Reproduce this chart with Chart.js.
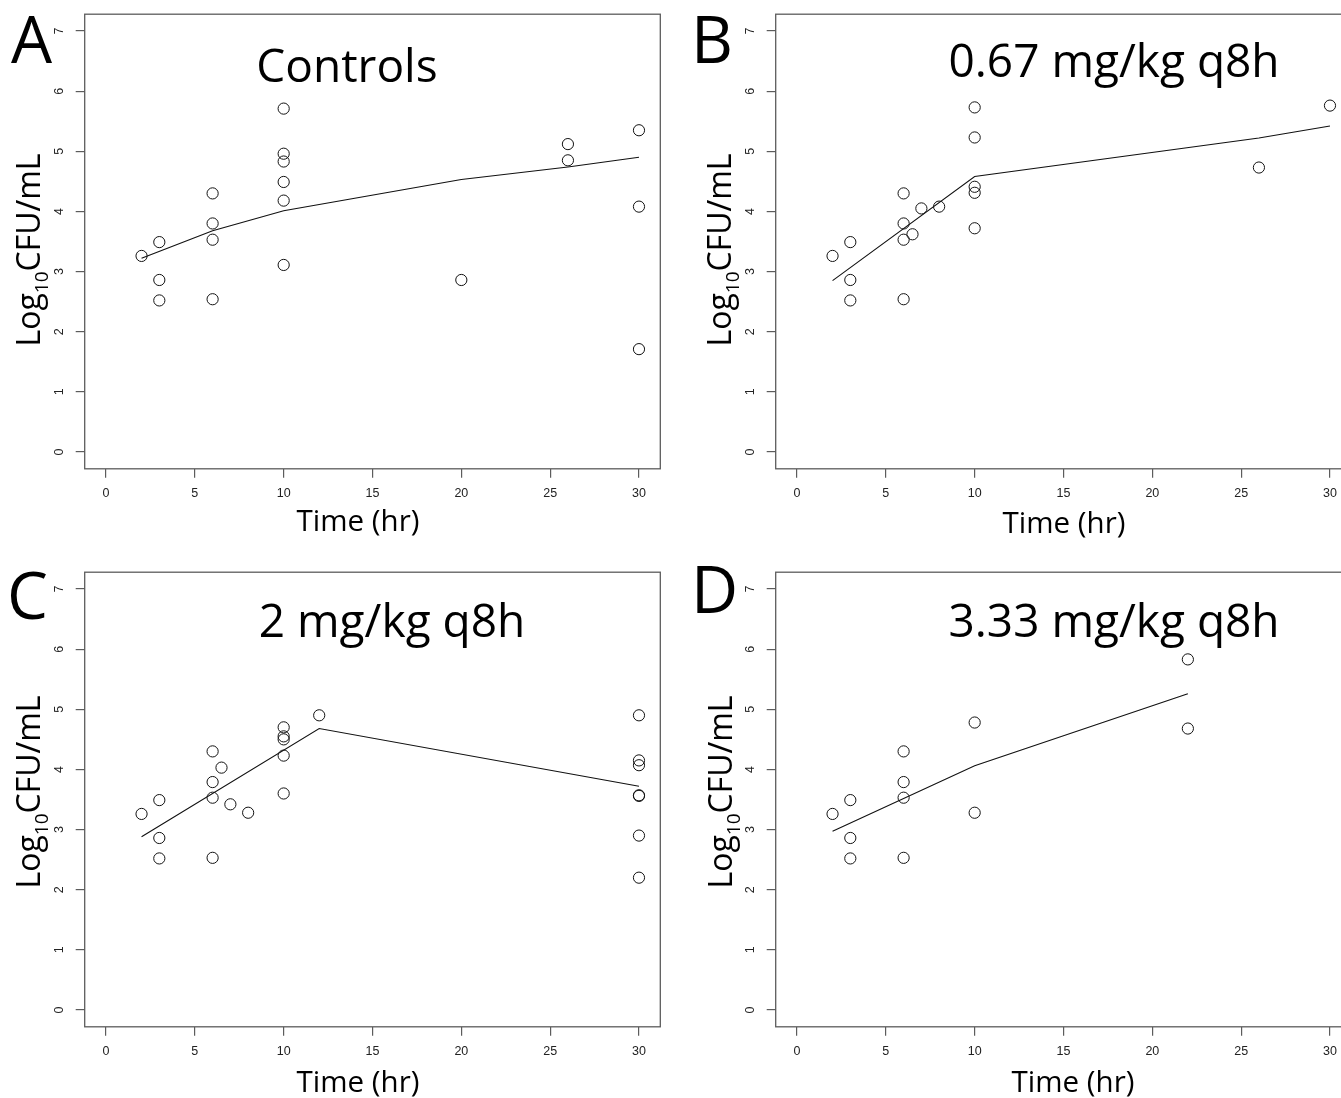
<!DOCTYPE html>
<html><head><meta charset="utf-8">
<script src="https://cdn.jsdelivr.net/npm/chart.js@4/dist/chart.umd.min.js"></script>
<style>
html,body{margin:0;padding:0;background:#fff;overflow:hidden;}
#wrap{position:relative;width:1341px;height:1098px;overflow:hidden;background:#fff;}
.panel{position:absolute;width:680px;height:549px;}
.panel canvas{display:block;}
</style></head><body>
<div id="wrap">
<div class="panel" style="left:0;top:0"><canvas id="cA" width="680" height="549"></canvas></div>
<div class="panel" style="left:690px;top:0"><canvas id="cB" width="680" height="549"></canvas></div>
<div class="panel" style="left:0;top:549px"><canvas id="cC" width="680" height="549"></canvas></div>
<div class="panel" style="left:690px;top:549px"><canvas id="cD" width="680" height="549"></canvas></div>
</div>
<script>
// ---- data ----
const xTicks = [0, 5, 10, 15, 20, 25, 30];
const yTicks = [0, 1, 2, 3, 4, 5, 6, 7];
const panelLetters = ['A', 'B', 'C', 'D'];
const panelTitles = ['Controls', '0.67 mg/kg q8h', '2 mg/kg q8h', '3.33 mg/kg q8h'];
const xTitle = 'Time (hr)';
const yTitleParts = ['Log', '10', 'CFU/mL'];

const timesA = [2, 3, 3, 3, 6, 6, 6, 6, 10, 10, 10, 10, 10, 10, 20, 26, 26, 30, 30, 30];
const logCfuA = [3.26, 3.49, 2.86, 2.52, 4.30, 3.80, 3.53, 2.54, 5.71, 4.96, 4.83, 4.49, 4.18, 3.11, 2.86, 5.12, 4.85, 5.35, 4.08, 1.71];
const fitTimesA = [2, 6, 10, 20, 26, 30];
const fitA = [3.22, 3.68, 4.01, 4.53, 4.74, 4.90];

const timesB = [2, 3, 3, 3, 6, 6, 6, 6, 6.5, 7, 8, 10, 10, 10, 10, 10, 26, 30];
const logCfuB = [3.26, 3.49, 2.86, 2.52, 4.30, 3.80, 3.53, 2.54, 3.62, 4.05, 4.08, 5.73, 5.23, 4.41, 4.31, 3.72, 4.73, 5.76];
const fitTimesB = [2, 10, 26, 30];
const fitB = [2.85, 4.58, 5.22, 5.42];

const timesC = [2, 3, 3, 3, 6, 6, 6, 6, 6.5, 7, 8, 10, 10, 10, 10, 10, 12, 30, 30, 30, 30, 30, 30, 30];
const logCfuC = [3.26, 3.49, 2.86, 2.52, 4.30, 3.79, 3.53, 2.53, 4.03, 3.42, 3.28, 4.70, 4.55, 4.50, 4.23, 3.60, 4.90, 4.90, 4.15, 4.07, 3.57, 3.56, 2.90, 2.20];
const fitTimesC = [2, 12, 30];
const fitC = [2.88, 4.68, 3.72];

const timesD = [2, 3, 3, 3, 6, 6, 6, 6, 10, 10, 22, 22];
const logCfuD = [3.26, 3.49, 2.86, 2.52, 4.30, 3.79, 3.53, 2.53, 4.78, 3.28, 5.83, 4.68];
const fitTimesD = [2, 10, 22];
const fitD = [2.97, 4.06, 5.26];

// ---- layout (local canvas pixels) ----
const CW = 680, CH = 549;
const layouts = [
  {area: {left: 84.7, right: 660.3, top: 14.2, bottom: 468.8},
   letter: {x: 11, y: 63}, title: {x: 347, y: 82}, xt: {x: 358, y: 531}, yt: {x: 40, y: 250}},
  {area: {left: 85.7, right: 661.3, top: 14.2, bottom: 468.8},
   letter: {x: 1, y: 63}, title: {x: 424, y: 77}, xt: {x: 374, y: 533}, yt: {x: 41, y: 250}},
  {area: {left: 84.7, right: 660.3, top: 23.2, bottom: 477.8},
   letter: {x: 7, y: 70}, title: {x: 392, y: 88}, xt: {x: 358, y: 543}, yt: {x: 40, y: 243}},
  {area: {left: 85.7, right: 661.3, top: 23.2, bottom: 477.8},
   letter: {x: 1, y: 64}, title: {x: 424, y: 88}, xt: {x: 383, y: 543}, yt: {x: 42, y: 243}}
];

const FONT = '"Open Sans", "Noto Sans", sans-serif';
const TICKFONT = '"Liberation Sans", Arial, sans-serif';

const panelDeco = {
  id: 'panelDeco',
  beforeDatasetsDraw(chart, args, o) {
    const a = chart.chartArea, ctx = chart.ctx;
    ctx.save();
    ctx.strokeStyle = '#5c5c5c';
    ctx.lineWidth = 1.3;
    ctx.strokeRect(a.left, a.top, a.right - a.left, a.bottom - a.top);
    ctx.restore();
  },
  afterDraw(chart, args, o) {
    const ctx = chart.ctx, L = o.layout;
    ctx.save();
    ctx.fillStyle = '#000';
    ctx.textBaseline = 'alphabetic';
    ctx.textAlign = 'left';
    ctx.font = '65px ' + FONT;
    ctx.fillText(o.letter, L.letter.x, L.letter.y);
    ctx.textAlign = 'center';
    ctx.font = '46px ' + FONT;
    ctx.fillText(o.title, L.title.x, L.title.y);
    ctx.font = '29.5px ' + FONT;
    ctx.fillText(xTitle, L.xt.x, L.xt.y);
    // rotated y title with subscript
    ctx.translate(L.yt.x, L.yt.y);
    ctx.rotate(-Math.PI / 2);
    ctx.textAlign = 'left';
    const big = '32px ' + FONT, small = '19px ' + FONT;
    ctx.font = big; const w1 = ctx.measureText(yTitleParts[0]).width;
    const w3 = ctx.measureText(yTitleParts[2]).width;
    ctx.font = small; const w2 = ctx.measureText(yTitleParts[1]).width;
    let x0 = -(w1 + w2 + w3) / 2;
    ctx.font = big; ctx.fillText(yTitleParts[0], x0, 0);
    ctx.font = small; ctx.fillText(yTitleParts[1], x0 + w1, 8);
    ctx.font = big; ctx.fillText(yTitleParts[2], x0 + w1 + w2, 0);
    ctx.restore();
  }
};

function makeChart(id, idx, times, vals, fitT, fitV) {
  const L = layouts[idx];
  const pts = times.map((t, i) => ({x: t, y: vals[i]}));
  const fit = fitT.map((t, i) => ({x: t, y: fitV[i]}));
  return new Chart(document.getElementById(id), {
    type: 'scatter',
    data: {
      datasets: [
        {data: pts, showLine: false, pointStyle: 'circle', pointRadius: 5.6,
         pointBorderWidth: 1, borderColor: '#111', pointBorderColor: '#111',
         backgroundColor: 'rgba(0,0,0,0)', pointBackgroundColor: 'rgba(0,0,0,0)'},
        {data: fit, showLine: true, pointRadius: 0, borderColor: '#111',
         borderWidth: 1.1, tension: 0, fill: false}
      ]
    },
    options: {
      responsive: false, animation: false, devicePixelRatio: 1,
      layout: {padding: {top: L.area.top, right: CW - L.area.right, left: 0, bottom: 0}},
      plugins: {legend: {display: false}, tooltip: {enabled: false}, title: {display: false},
                panelDeco: {layout: L, letter: panelLetters[idx], title: panelTitles[idx]}},
      scales: {
        x: {
          type: 'linear', position: 'bottom', min: -1.2, max: 31.2,
          afterBuildTicks: s => { s.ticks = xTicks.map(v => ({value: v})); },
          afterFit: s => { s.height = CH - L.area.bottom; s.paddingLeft = 0; s.paddingRight = 0; },
          ticks: {autoSkip: false, maxRotation: 0, minRotation: 0, padding: 8,
                  color: '#222', font: {family: TICKFONT, size: 12.5}},
          grid: {display: true, drawOnChartArea: false, drawTicks: true, tickLength: 9,
                 color: '#5c5c5c', lineWidth: 1.2},
          border: {display: false}
        },
        y: {
          type: 'linear', position: 'left', min: -0.28, max: 7.28,
          afterBuildTicks: s => { s.ticks = yTicks.map(v => ({value: v})); },
          afterFit: s => { s.width = L.area.left; s.paddingTop = 0; s.paddingBottom = 0; },
          ticks: {autoSkip: false, minRotation: 90, maxRotation: 90, crossAlign: 'center', padding: 13,
                  color: '#222', font: {family: TICKFONT, size: 12.5}},
          grid: {display: true, drawOnChartArea: false, drawTicks: true, tickLength: 9,
                 color: '#5c5c5c', lineWidth: 1.2},
          border: {display: false}
        }
      }
    },
    plugins: [panelDeco]
  });
}

makeChart('cA', 0, timesA, logCfuA, fitTimesA, fitA);
makeChart('cB', 1, timesB, logCfuB, fitTimesB, fitB);
makeChart('cC', 2, timesC, logCfuC, fitTimesC, fitC);
makeChart('cD', 3, timesD, logCfuD, fitTimesD, fitD);
</script>
</body></html>
